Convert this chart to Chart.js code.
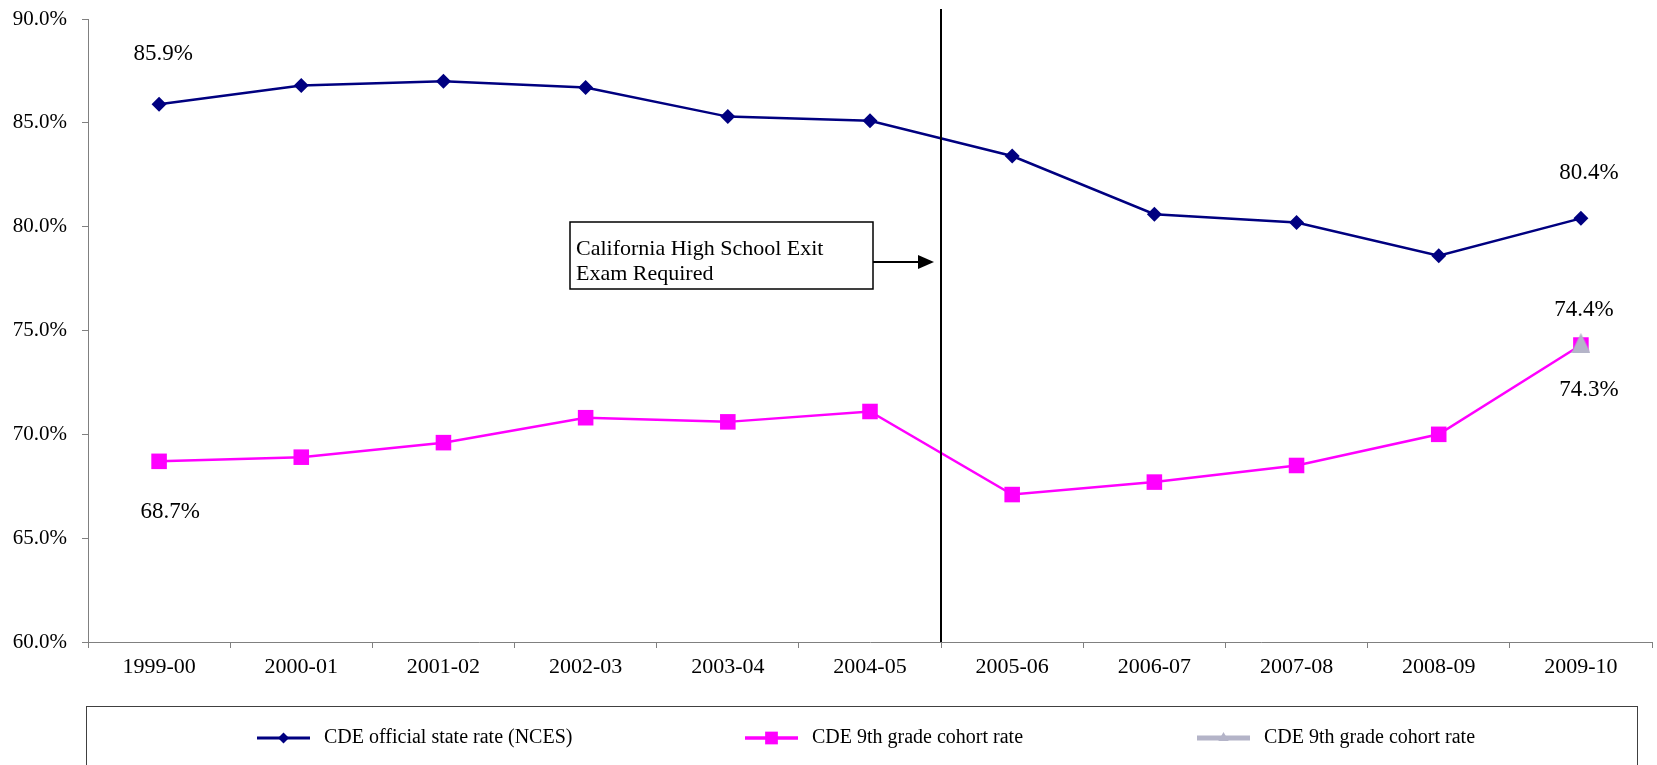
<!DOCTYPE html>
<html>
<head>
<meta charset="utf-8">
<script src="https://cdn.jsdelivr.net/npm/chart.js@4/dist/chart.umd.min.js"></script>
<style>
  html, body { margin: 0; padding: 0; background: #ffffff; overflow: hidden; }
  #c { display: block; }
</style>
</head>
<body>
<canvas id="c" width="1657" height="765"></canvas>
<script>
// School years on the x axis
const years = ['1999-00', '2000-01', '2001-02', '2002-03', '2003-04', '2004-05',
               '2005-06', '2006-07', '2007-08', '2008-09', '2009-10'];

// Graduation rates, percent
const officialRate = [85.9, 86.8, 87.0, 86.7, 85.3, 85.1, 83.4, 80.6, 80.2, 78.6, 80.4];
const cohortRate   = [68.7, 68.9, 69.6, 70.8, 70.6, 71.1, 67.1, 67.7, 68.5, 70.0, 74.3];
const cohortRate2  = [null, null, null, null, null, null, null, null, null, null, 74.4];

// Y axis range and tick step
const yMin = 60, yMax = 90, yStep = 5;

const seriesNames = ['CDE official state rate (NCES)', 'CDE 9th grade cohort rate', 'CDE 9th grade cohort rate'];
const noteLines = ['California High School Exit', 'Exam Required'];
const SERIF = "'Liberation Serif', 'Times New Roman', serif";
const GRAY = '#b4b4c8';

// value labels: [dataset, point index, dx, dy]
const valueLabels = [
  [0, 0, 4, -50], [0, 10, 8, -45],
  [1, 0, 11, 51], [1, 10, 8, 45],
  [2, 10, 3, -33]
];

const pct = v => v.toFixed(1) + '%';

// isosceles triangle marker, centred on its bounding box
function triangleMarker(w, h, color) {
  const c = document.createElement('canvas');
  c.width = w; c.height = h;
  const g = c.getContext('2d');
  g.fillStyle = color;
  g.beginPath();
  g.moveTo(w / 2, 0);
  g.lineTo(w, h);
  g.lineTo(0, h);
  g.closePath();
  g.fill();
  return c;
}

const valueLabelPlugin = {
  id: 'valueLabels',
  afterDatasetsDraw(chart) {
    const ctx = chart.ctx;
    ctx.save();
    ctx.font = '23px ' + SERIF;
    ctx.fillStyle = '#000';
    ctx.textAlign = 'center';
    ctx.textBaseline = 'middle';
    valueLabels.forEach(([ds, i, dx, dy]) => {
      const el = chart.getDatasetMeta(ds).data[i];
      const v = chart.data.datasets[ds].data[i];
      ctx.fillText(pct(v), el.x + dx, el.y + dy);
    });
    ctx.restore();
  }
};

const notePlugin = {
  id: 'examNote',
  afterDatasetsDraw(chart) {
    const ctx = chart.ctx;
    const xs = chart.scales.x;
    const area = chart.chartArea;
    const lx = Math.round((xs.getPixelForValue(5) + xs.getPixelForValue(6)) / 2);
    ctx.save();
    // divider line
    ctx.strokeStyle = '#000';
    ctx.lineWidth = 2;
    ctx.beginPath();
    ctx.moveTo(lx, area.top - 10);
    ctx.lineTo(lx, area.bottom);
    ctx.stroke();
    // note box
    const bx = lx - 371, bw = 303, by = 222, bh = 67;
    ctx.fillStyle = '#fff';
    ctx.fillRect(bx, by, bw, bh);
    ctx.lineWidth = 1.5;
    ctx.strokeRect(bx, by, bw, bh);
    ctx.fillStyle = '#000';
    ctx.font = '22px ' + SERIF;
    ctx.textAlign = 'left';
    ctx.textBaseline = 'alphabetic';
    ctx.fillText(noteLines[0], bx + 6, by + 33);
    ctx.fillText(noteLines[1], bx + 6, by + 58);
    // arrow
    const ay = by + 40;
    const tip = lx - 7;
    ctx.lineWidth = 2;
    ctx.beginPath();
    ctx.moveTo(bx + bw, ay);
    ctx.lineTo(tip - 14, ay);
    ctx.stroke();
    ctx.beginPath();
    ctx.moveTo(tip, ay);
    ctx.lineTo(tip - 16, ay - 7);
    ctx.lineTo(tip - 16, ay + 7);
    ctx.closePath();
    ctx.fill();
    ctx.restore();
  }
};

const legendMarks = [
  { style: 'rectRot', r: 5.5 },
  { style: 'rect', r: 9 },
  { style: 'triangle', r: 6 }
];

const legendPlugin = {
  id: 'boxLegend',
  afterDraw(chart) {
    const ctx = chart.ctx;
    ctx.save();
    ctx.strokeStyle = '#404040';
    ctx.lineWidth = 1;
    ctx.strokeRect(86.5, 706.5, 1551, 100);
    const starts = [257, 745, 1197];
    const cy = 738;
    chart.data.datasets.forEach((ds, k) => {
      const x0 = starts[k];
      ctx.strokeStyle = ds.borderColor;
      ctx.lineWidth = ds.legendLineWidth;
      ctx.beginPath();
      ctx.moveTo(x0, cy);
      ctx.lineTo(x0 + 53, cy);
      ctx.stroke();
      ctx.fillStyle = ds.borderColor;
      Chart.helpers.drawPoint(ctx, { pointStyle: legendMarks[k].style, rotation: 0, radius: legendMarks[k].r, borderWidth: 0 }, x0 + 26.5, cy);
      ctx.fillStyle = '#000';
      ctx.font = '20px ' + SERIF;
      ctx.textAlign = 'left';
      ctx.textBaseline = 'middle';
      ctx.fillText(ds.label, x0 + 67, cy);
    });
    ctx.restore();
  }
};

new Chart(document.getElementById('c'), {
  type: 'line',
  data: {
    labels: years,
    datasets: [
      {
        label: seriesNames[0], data: officialRate, order: 2,
        borderColor: '#000080', borderWidth: 2.5, legendLineWidth: 3,
        pointStyle: 'rectRot', pointRadius: 7.5, pointHoverRadius: 7.5,
        pointBackgroundColor: '#000080', pointBorderColor: '#000080', pointBorderWidth: 0,
        tension: 0, fill: false
      },
      {
        label: seriesNames[1], data: cohortRate, order: 1,
        borderColor: '#ff00ff', borderWidth: 2.5, legendLineWidth: 3.5,
        pointStyle: 'rect', pointRadius: 11, pointHoverRadius: 11,
        pointBackgroundColor: '#ff00ff', pointBorderColor: '#ff00ff', pointBorderWidth: 0,
        tension: 0, fill: false
      },
      {
        label: seriesNames[2], data: cohortRate2, order: 0,
        borderColor: GRAY, borderWidth: 5, legendLineWidth: 5,
        pointStyle: triangleMarker(19, 20, GRAY), pointRadius: 11, pointHoverRadius: 11,
        pointBackgroundColor: GRAY, pointBorderColor: GRAY, pointBorderWidth: 0,
        tension: 0, fill: false
      }
    ]
  },
  options: {
    responsive: false,
    animation: false,
    events: [],
    layout: { autoPadding: false, padding: { top: 19, right: 5, left: 0, bottom: 0 } },
    plugins: { legend: { display: false }, tooltip: { enabled: false } },
    scales: {
      x: {
        type: 'category',
        offset: true,
        border: { display: true, color: '#808080', width: 1 },
        grid: { offset: true, drawOnChartArea: false, drawTicks: true, tickLength: 6, color: '#808080' },
        ticks: { color: '#000', font: { family: SERIF, size: 22 }, padding: 6, maxRotation: 0, autoSkip: false },
        afterFit: s => { s.height = 123; s.paddingLeft = 0; s.paddingRight = 0; }
      },
      y: {
        min: yMin, max: yMax,
        border: { display: true, color: '#808080', width: 1 },
        grid: { drawOnChartArea: false, drawTicks: true, tickLength: 6, color: '#808080' },
        ticks: { stepSize: yStep, color: '#000', font: { family: SERIF, size: 21 }, padding: 15, callback: v => pct(v) },
        afterFit: s => { s.width = 88; s.paddingTop = 0; s.paddingBottom = 0; }
      }
    }
  },
  plugins: [valueLabelPlugin, notePlugin, legendPlugin]
});
</script>
</body>
</html>
